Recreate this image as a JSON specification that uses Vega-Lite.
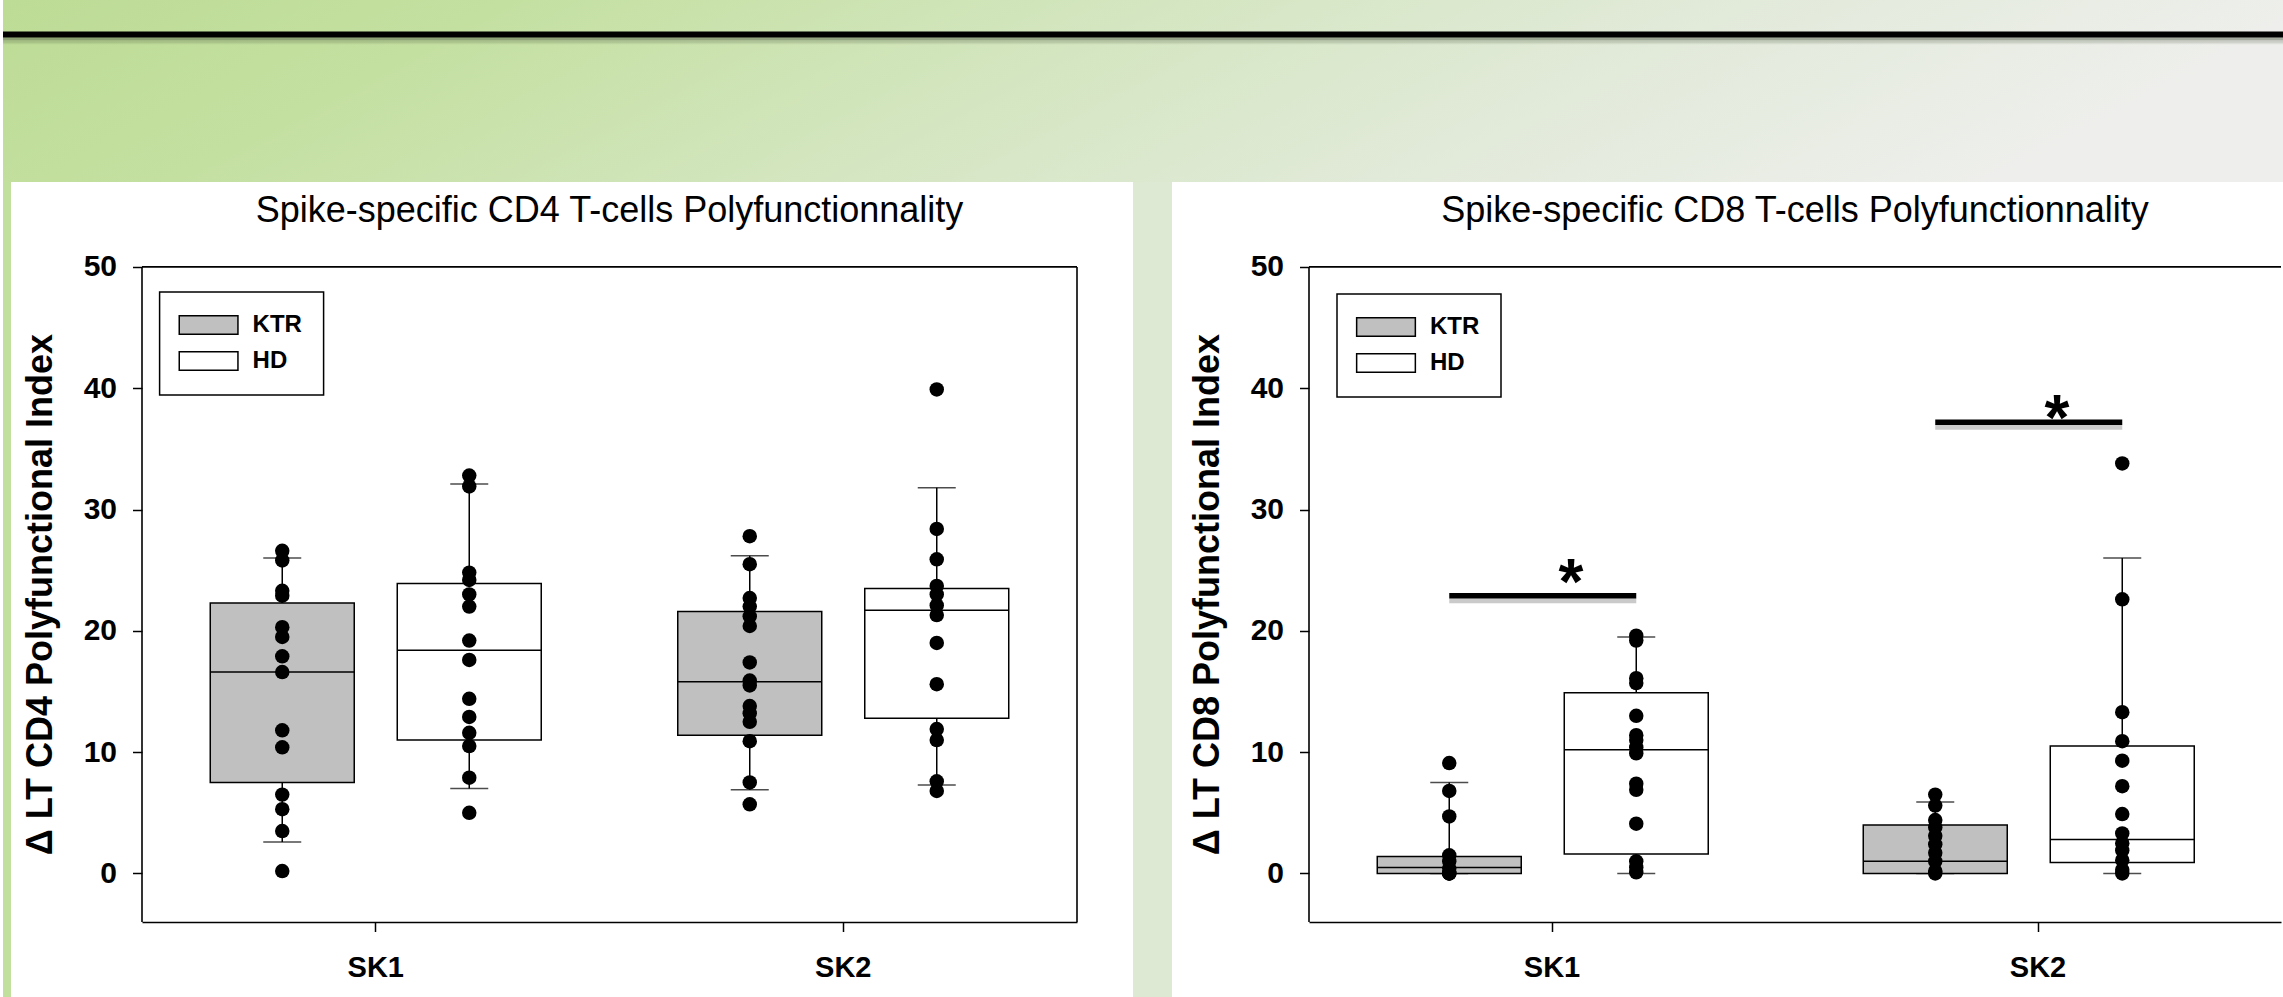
{
  "$schema": "https://vega.github.io/schema/vega-lite/v6.json",
  "background": "white",
  "padding": 0,
  "spacing": -50,
  "config": {
    "font": "Liberation Sans, Arial, sans-serif",
    "view": {"stroke": null},
    "axis": {
      "domain": true, "domainColor": "black", "domainWidth": 1.6,
      "ticks": true, "tickColor": "black", "tickWidth": 1.5, "tickSize": 9.5,
      "labelColor": "black", "labelFont": "Liberation Sans, Arial, sans-serif", "labelFontWeight": "bold",
      "titleColor": "black", "titleFont": "Liberation Sans, Arial, sans-serif", "titleFontWeight": "bold",
      "grid": false
    },
    "axisY": {"domain": false, "labelFontSize": 30, "labelPadding": 16, "titleFontSize": 36, "titlePadding": 24},
    "axisX": {"labelFontSize": 29, "labelPadding": 22, "labelAngle": 0, "bandPosition": 0.5},
    "legend": {"strokeWidth": 1.5}
  },
  "datasets": {
    "cd4box": [
      {"group": "SK1", "cohort": "KTR", "lo": 2.6, "q1": 7.5, "median": 16.6, "q3": 22.3, "hi": 26.0},
      {"group": "SK1", "cohort": "HD", "lo": 7.0, "q1": 11.0, "median": 18.4, "q3": 23.9, "hi": 32.1},
      {"group": "SK2", "cohort": "KTR", "lo": 6.9, "q1": 11.4, "median": 15.8, "q3": 21.6, "hi": 26.2},
      {"group": "SK2", "cohort": "HD", "lo": 7.3, "q1": 12.8, "median": 21.7, "q3": 23.5, "hi": 31.8}
    ],
    "cd4pts": [
      {"group": "SK1", "cohort": "KTR", "value": 26.6},
      {"group": "SK1", "cohort": "KTR", "value": 25.8},
      {"group": "SK1", "cohort": "KTR", "value": 23.3},
      {"group": "SK1", "cohort": "KTR", "value": 22.9},
      {"group": "SK1", "cohort": "KTR", "value": 20.3},
      {"group": "SK1", "cohort": "KTR", "value": 19.5},
      {"group": "SK1", "cohort": "KTR", "value": 17.9},
      {"group": "SK1", "cohort": "KTR", "value": 16.6},
      {"group": "SK1", "cohort": "KTR", "value": 11.8},
      {"group": "SK1", "cohort": "KTR", "value": 10.4},
      {"group": "SK1", "cohort": "KTR", "value": 6.5},
      {"group": "SK1", "cohort": "KTR", "value": 5.3},
      {"group": "SK1", "cohort": "KTR", "value": 3.5},
      {"group": "SK1", "cohort": "KTR", "value": 0.2},
      {"group": "SK1", "cohort": "HD", "value": 32.8},
      {"group": "SK1", "cohort": "HD", "value": 31.9},
      {"group": "SK1", "cohort": "HD", "value": 24.8},
      {"group": "SK1", "cohort": "HD", "value": 24.2},
      {"group": "SK1", "cohort": "HD", "value": 23.0},
      {"group": "SK1", "cohort": "HD", "value": 22.0},
      {"group": "SK1", "cohort": "HD", "value": 19.2},
      {"group": "SK1", "cohort": "HD", "value": 17.6},
      {"group": "SK1", "cohort": "HD", "value": 14.4},
      {"group": "SK1", "cohort": "HD", "value": 12.9},
      {"group": "SK1", "cohort": "HD", "value": 11.6},
      {"group": "SK1", "cohort": "HD", "value": 10.5},
      {"group": "SK1", "cohort": "HD", "value": 7.9},
      {"group": "SK1", "cohort": "HD", "value": 5.0},
      {"group": "SK2", "cohort": "KTR", "value": 27.8},
      {"group": "SK2", "cohort": "KTR", "value": 25.5},
      {"group": "SK2", "cohort": "KTR", "value": 22.7},
      {"group": "SK2", "cohort": "KTR", "value": 22.0},
      {"group": "SK2", "cohort": "KTR", "value": 21.2},
      {"group": "SK2", "cohort": "KTR", "value": 20.4},
      {"group": "SK2", "cohort": "KTR", "value": 17.4},
      {"group": "SK2", "cohort": "KTR", "value": 15.9},
      {"group": "SK2", "cohort": "KTR", "value": 15.5},
      {"group": "SK2", "cohort": "KTR", "value": 13.8},
      {"group": "SK2", "cohort": "KTR", "value": 13.2},
      {"group": "SK2", "cohort": "KTR", "value": 12.5},
      {"group": "SK2", "cohort": "KTR", "value": 10.9},
      {"group": "SK2", "cohort": "KTR", "value": 7.5},
      {"group": "SK2", "cohort": "KTR", "value": 5.7},
      {"group": "SK2", "cohort": "HD", "value": 39.9},
      {"group": "SK2", "cohort": "HD", "value": 28.4},
      {"group": "SK2", "cohort": "HD", "value": 25.9},
      {"group": "SK2", "cohort": "HD", "value": 23.7},
      {"group": "SK2", "cohort": "HD", "value": 23.0},
      {"group": "SK2", "cohort": "HD", "value": 22.1},
      {"group": "SK2", "cohort": "HD", "value": 21.3},
      {"group": "SK2", "cohort": "HD", "value": 19.0},
      {"group": "SK2", "cohort": "HD", "value": 15.6},
      {"group": "SK2", "cohort": "HD", "value": 11.9},
      {"group": "SK2", "cohort": "HD", "value": 11.0},
      {"group": "SK2", "cohort": "HD", "value": 7.6},
      {"group": "SK2", "cohort": "HD", "value": 6.8}
    ],
    "cd8box": [
      {"group": "SK1", "cohort": "KTR", "lo": 0.0, "q1": 0.0, "median": 0.5, "q3": 1.4, "hi": 7.5},
      {"group": "SK1", "cohort": "HD", "lo": 0.0, "q1": 1.6, "median": 10.2, "q3": 14.9, "hi": 19.5},
      {"group": "SK2", "cohort": "KTR", "lo": 0.0, "q1": 0.0, "median": 1.0, "q3": 4.0, "hi": 5.9},
      {"group": "SK2", "cohort": "HD", "lo": 0.0, "q1": 0.9, "median": 2.8, "q3": 10.5, "hi": 26.0}
    ],
    "cd8pts": [
      {"group": "SK1", "cohort": "KTR", "value": 9.1},
      {"group": "SK1", "cohort": "KTR", "value": 6.8},
      {"group": "SK1", "cohort": "KTR", "value": 4.7},
      {"group": "SK1", "cohort": "KTR", "value": 1.5},
      {"group": "SK1", "cohort": "KTR", "value": 1.0},
      {"group": "SK1", "cohort": "KTR", "value": 0.4},
      {"group": "SK1", "cohort": "KTR", "value": 0.0},
      {"group": "SK1", "cohort": "KTR", "value": 0.0},
      {"group": "SK1", "cohort": "KTR", "value": 0.0},
      {"group": "SK1", "cohort": "HD", "value": 19.6},
      {"group": "SK1", "cohort": "HD", "value": 19.2},
      {"group": "SK1", "cohort": "HD", "value": 16.1},
      {"group": "SK1", "cohort": "HD", "value": 15.7},
      {"group": "SK1", "cohort": "HD", "value": 13.0},
      {"group": "SK1", "cohort": "HD", "value": 11.4},
      {"group": "SK1", "cohort": "HD", "value": 11.0},
      {"group": "SK1", "cohort": "HD", "value": 10.4},
      {"group": "SK1", "cohort": "HD", "value": 9.9},
      {"group": "SK1", "cohort": "HD", "value": 7.4},
      {"group": "SK1", "cohort": "HD", "value": 6.9},
      {"group": "SK1", "cohort": "HD", "value": 4.1},
      {"group": "SK1", "cohort": "HD", "value": 1.0},
      {"group": "SK1", "cohort": "HD", "value": 0.5},
      {"group": "SK1", "cohort": "HD", "value": 0.1},
      {"group": "SK2", "cohort": "KTR", "value": 6.5},
      {"group": "SK2", "cohort": "KTR", "value": 5.6},
      {"group": "SK2", "cohort": "KTR", "value": 4.4},
      {"group": "SK2", "cohort": "KTR", "value": 3.8},
      {"group": "SK2", "cohort": "KTR", "value": 3.1},
      {"group": "SK2", "cohort": "KTR", "value": 2.4},
      {"group": "SK2", "cohort": "KTR", "value": 1.7},
      {"group": "SK2", "cohort": "KTR", "value": 1.0},
      {"group": "SK2", "cohort": "KTR", "value": 0.2},
      {"group": "SK2", "cohort": "KTR", "value": 0.0},
      {"group": "SK2", "cohort": "HD", "value": 33.8},
      {"group": "SK2", "cohort": "HD", "value": 22.6},
      {"group": "SK2", "cohort": "HD", "value": 13.3},
      {"group": "SK2", "cohort": "HD", "value": 10.9},
      {"group": "SK2", "cohort": "HD", "value": 9.3},
      {"group": "SK2", "cohort": "HD", "value": 7.2},
      {"group": "SK2", "cohort": "HD", "value": 4.9},
      {"group": "SK2", "cohort": "HD", "value": 3.3},
      {"group": "SK2", "cohort": "HD", "value": 2.5},
      {"group": "SK2", "cohort": "HD", "value": 1.9},
      {"group": "SK2", "cohort": "HD", "value": 1.1},
      {"group": "SK2", "cohort": "HD", "value": 0.3},
      {"group": "SK2", "cohort": "HD", "value": 0.0}
    ],
    "cd8sig": [
      {"group": "SK1", "cohort": "KTR", "level": 22.9},
      {"group": "SK1", "cohort": "HD", "level": 22.9},
      {"group": "SK2", "cohort": "KTR", "level": 37.2},
      {"group": "SK2", "cohort": "HD", "level": 37.2}
    ],
    "cd8star": [
      {"group": "SK1", "y": 25.2, "label": "*"},
      {"group": "SK2", "y": 38.7, "label": "*"}
    ]
  },
  "vconcat": [
    {
      "width": 2283,
      "height": 182,
      "data": {"values": [{}]},
      "view": {"stroke": null, "fill": {"gradient": "linear", "x1": 0, "y1": 0, "x2": 1, "y2": 0.15, "stops": [
        {"offset": 0, "color": "#bddc95"},
        {"offset": 0.22, "color": "#c4e0a1"},
        {"offset": 0.5, "color": "#d4e6c1"},
        {"offset": 0.75, "color": "#e2eada"},
        {"offset": 1, "color": "#eeefec"}
      ]}},
      "layer": [
        {"mark": {"type": "rule", "color": "#4a5540", "strokeWidth": 3, "opacity": 0.45},
         "encoding": {"y": {"datum": 38.8, "type": "quantitative", "scale": {"domain": [0, 182], "reverse": true, "nice": false, "zero": false}, "axis": null}}},
        {"mark": {"type": "rule", "color": "#4a5540", "strokeWidth": 2.5, "opacity": 0.22},
         "encoding": {"y": {"datum": 41.5, "type": "quantitative"}}},
        {"mark": {"type": "rule", "color": "#4a5540", "strokeWidth": 1.5, "opacity": 0.1},
         "encoding": {"y": {"datum": 43.6, "type": "quantitative"}}},
        {"mark": {"type": "rule", "color": "black", "strokeWidth": 5.8},
         "encoding": {"y": {"datum": 34.5, "type": "quantitative"}}}
      ]
    },
    {
      "spacing": 0,
      "resolve": {"scale": {"fill": "independent"}, "legend": {"fill": "independent"}},
      "hconcat": [
        {
          "width": 18.7, "height": 815,
          "data": {"values": []},
          "view": {"stroke": null, "fill": {"gradient": "linear", "x1": 0, "y1": 0, "x2": 1, "y2": 0, "stops": [
            {"offset": 0, "color": "#c1df9d"}, {"offset": 0.41, "color": "#c1df9d"},
            {"offset": 0.41, "color": "#ffffff"}, {"offset": 1, "color": "#ffffff"}
          ]}},
          "mark": {"type": "rule", "opacity": 0},
          "encoding": {}
        },
        {
          "width": 935, "height": 740,
          "view": {"stroke": null, "fill": "white"},
          "title": {"text": "Spike-specific CD4 T-cells Polyfunctionnality", "fontSize": 36, "fontWeight": "normal", "color": "black", "frame": "group", "anchor": "middle", "baseline": "alphabetic", "offset": -76},
          "layer": [
            {
              "data": {"name": "cd4box"},
              "mark": {"type": "rule", "color": "black", "strokeWidth": 1.5},
              "encoding": {
                "x": {"field": "group", "type": "nominal", "title": null, "scale": {"domain": ["SK1", "SK2"], "paddingInner": 0, "paddingOuter": 0}},
                "xOffset": {"field": "cohort", "type": "nominal", "scale": {"domain": ["KTR", "HD"], "paddingInner": 0.23, "paddingOuter": 0.365}},
                "y": {"field": "lo", "type": "quantitative", "title": "Δ LT CD4 Polyfunctional Index", "scale": {"domain": [-4, 57], "nice": false, "zero": false}, "axis": {"values": [0, 10, 20, 30, 40, 50], "titleY": 412}},
                "y2": {"field": "hi"}
              }
            },
            {
              "data": {"name": "cd4box"},
              "mark": {"type": "tick", "color": "black", "size": 38, "thickness": 1.5},
              "encoding": {
                "x": {"field": "group", "type": "nominal", "title": null},
                "xOffset": {"field": "cohort", "type": "nominal"},
                "y": {"field": "lo", "type": "quantitative", "title": "Δ LT CD4 Polyfunctional Index"}
              }
            },
            {
              "data": {"name": "cd4box"},
              "mark": {"type": "tick", "color": "black", "size": 38, "thickness": 1.5},
              "encoding": {
                "x": {"field": "group", "type": "nominal", "title": null},
                "xOffset": {"field": "cohort", "type": "nominal"},
                "y": {"field": "hi", "type": "quantitative", "title": "Δ LT CD4 Polyfunctional Index"}
              }
            },
            {
              "data": {"name": "cd4box"},
              "mark": {"type": "bar", "stroke": "black", "strokeWidth": 1.5, "opacity": 1},
              "encoding": {
                "x": {"field": "group", "type": "nominal", "title": null},
                "xOffset": {"field": "cohort", "type": "nominal"},
                "y": {"field": "q1", "type": "quantitative", "title": "Δ LT CD4 Polyfunctional Index"},
                "y2": {"field": "q3"},
                "fill": {"field": "cohort", "type": "nominal", "scale": {"domain": ["KTR", "HD"], "range": ["#c0c0c0", "#ffffff"]},
                  "legend": {"title": null, "orient": "none", "legendX": 17.6, "legendY": 110, "direction": "vertical", "fillColor": "white", "strokeColor": "black", "padding": 21,
                    "symbolType": "M-2.935,-0.935H2.935V0.935H-2.935Z", "symbolSize": 400, "symbolStrokeColor": "black", "symbolStrokeWidth": 1.5, "symbolOffset": 16,
                    "labelOffset": 32, "labelFontSize": 24, "labelFontWeight": "bold", "labelColor": "black", "rowPadding": 10}}
              }
            },
            {
              "data": {"name": "cd4box"},
              "mark": {"type": "bar", "fill": "transparent", "stroke": "black", "strokeWidth": 1.5},
              "encoding": {
                "x": {"field": "group", "type": "nominal", "title": null},
                "xOffset": {"field": "cohort", "type": "nominal"},
                "y": {"field": "median", "type": "quantitative", "title": "Δ LT CD4 Polyfunctional Index"},
                "y2": {"field": "median"}
              }
            },
            {
              "data": {"name": "cd4pts"},
              "mark": {"type": "circle", "color": "black", "opacity": 1, "size": 210},
              "encoding": {
                "x": {"field": "group", "type": "nominal", "title": null},
                "xOffset": {"field": "cohort", "type": "nominal"},
                "y": {"field": "value", "type": "quantitative", "title": "Δ LT CD4 Polyfunctional Index"}
              }
            },
            {
              "data": {"values": [{}]},
              "mark": {"type": "rule", "color": "black", "strokeWidth": 1.6},
              "encoding": {"y": {"datum": 50, "type": "quantitative"}}
            },
            {
              "data": {"values": [{}]},
              "mark": {"type": "rule", "color": "black", "strokeWidth": 1.6},
              "encoding": {
                "x": {"datum": "SK1", "type": "nominal", "bandPosition": 0},
                "y": {"datum": -4, "type": "quantitative"},
                "y2": {"datum": 50}
              }
            },
            {
              "data": {"values": [{}]},
              "mark": {"type": "rule", "color": "black", "strokeWidth": 1.6},
              "encoding": {
                "x": {"datum": "SK2", "type": "nominal", "bandPosition": 1},
                "y": {"datum": -4, "type": "quantitative"},
                "y2": {"datum": 50}
              }
            }
          ]
        },
        {
          "width": 111, "height": 815,
          "data": {"values": []},
          "view": {"stroke": null, "fill": {"gradient": "linear", "x1": 0, "y1": 0, "x2": 1, "y2": 0, "stops": [
            {"offset": 0, "color": "#ffffff"}, {"offset": 0.499, "color": "#ffffff"},
            {"offset": 0.499, "color": "#dde9d2"}, {"offset": 0.85, "color": "#dde9d2"},
            {"offset": 0.85, "color": "#ffffff"}, {"offset": 1, "color": "#ffffff"}
          ]}},
          "mark": {"type": "rule", "opacity": 0},
          "encoding": {}
        },
        {
          "width": 972, "height": 740,
          "view": {"stroke": null, "fill": "white"},
          "title": {"text": "Spike-specific CD8 T-cells Polyfunctionnality", "fontSize": 36, "fontWeight": "normal", "color": "black", "frame": "group", "anchor": "middle", "baseline": "alphabetic", "offset": -76},
          "layer": [
            {
              "data": {"name": "cd8box"},
              "mark": {"type": "rule", "color": "black", "strokeWidth": 1.5},
              "encoding": {
                "x": {"field": "group", "type": "nominal", "title": null, "scale": {"domain": ["SK1", "SK2"], "paddingInner": 0, "paddingOuter": 0}},
                "xOffset": {"field": "cohort", "type": "nominal", "scale": {"domain": ["KTR", "HD"], "paddingInner": 0.23, "paddingOuter": 0.365}},
                "y": {"field": "lo", "type": "quantitative", "title": "Δ LT CD8 Polyfunctional Index", "scale": {"domain": [-4, 57], "nice": false, "zero": false}, "axis": {"values": [0, 10, 20, 30, 40, 50], "titleY": 412}},
                "y2": {"field": "hi"}
              }
            },
            {
              "data": {"name": "cd8box"},
              "mark": {"type": "tick", "color": "black", "size": 38, "thickness": 1.5},
              "encoding": {
                "x": {"field": "group", "type": "nominal", "title": null},
                "xOffset": {"field": "cohort", "type": "nominal"},
                "y": {"field": "lo", "type": "quantitative", "title": "Δ LT CD8 Polyfunctional Index"}
              }
            },
            {
              "data": {"name": "cd8box"},
              "mark": {"type": "tick", "color": "black", "size": 38, "thickness": 1.5},
              "encoding": {
                "x": {"field": "group", "type": "nominal", "title": null},
                "xOffset": {"field": "cohort", "type": "nominal"},
                "y": {"field": "hi", "type": "quantitative", "title": "Δ LT CD8 Polyfunctional Index"}
              }
            },
            {
              "data": {"name": "cd8box"},
              "mark": {"type": "bar", "stroke": "black", "strokeWidth": 1.5, "opacity": 1},
              "encoding": {
                "x": {"field": "group", "type": "nominal", "title": null},
                "xOffset": {"field": "cohort", "type": "nominal"},
                "y": {"field": "q1", "type": "quantitative", "title": "Δ LT CD8 Polyfunctional Index"},
                "y2": {"field": "q3"},
                "fill": {"field": "cohort", "type": "nominal", "scale": {"domain": ["KTR", "HD"], "range": ["#c0c0c0", "#ffffff"]},
                  "legend": {"title": null, "orient": "none", "legendX": 28, "legendY": 112, "direction": "vertical", "fillColor": "white", "strokeColor": "black", "padding": 21,
                    "symbolType": "M-2.935,-0.935H2.935V0.935H-2.935Z", "symbolSize": 400, "symbolStrokeColor": "black", "symbolStrokeWidth": 1.5, "symbolOffset": 16,
                    "labelOffset": 32, "labelFontSize": 24, "labelFontWeight": "bold", "labelColor": "black", "rowPadding": 10}}
              }
            },
            {
              "data": {"name": "cd8box"},
              "mark": {"type": "bar", "fill": "transparent", "stroke": "black", "strokeWidth": 1.5},
              "encoding": {
                "x": {"field": "group", "type": "nominal", "title": null},
                "xOffset": {"field": "cohort", "type": "nominal"},
                "y": {"field": "median", "type": "quantitative", "title": "Δ LT CD8 Polyfunctional Index"},
                "y2": {"field": "median"}
              }
            },
            {
              "data": {"name": "cd8pts"},
              "mark": {"type": "circle", "color": "black", "opacity": 1, "size": 210},
              "encoding": {
                "x": {"field": "group", "type": "nominal", "title": null},
                "xOffset": {"field": "cohort", "type": "nominal"},
                "y": {"field": "value", "type": "quantitative", "title": "Δ LT CD8 Polyfunctional Index"}
              }
            },
            {
              "data": {"name": "cd8sig"},
              "mark": {"type": "line", "color": "#8a8a8a", "opacity": 0.45, "strokeWidth": 5, "strokeCap": "butt"},
              "encoding": {
                "x": {"field": "group", "type": "nominal", "title": null},
                "xOffset": {"field": "cohort", "type": "nominal"},
                "y": {"field": "level", "type": "quantitative", "title": "Δ LT CD8 Polyfunctional Index"},
                "yOffset": {"value": 5},
                "detail": {"field": "group"}
              }
            },
            {
              "data": {"name": "cd8sig"},
              "mark": {"type": "line", "color": "black", "strokeWidth": 5.5, "strokeCap": "butt"},
              "encoding": {
                "x": {"field": "group", "type": "nominal", "title": null},
                "xOffset": {"field": "cohort", "type": "nominal"},
                "y": {"field": "level", "type": "quantitative", "title": "Δ LT CD8 Polyfunctional Index"},
                "detail": {"field": "group"}
              }
            },
            {
              "data": {"name": "cd8star"},
              "mark": {"type": "text", "color": "black", "fontSize": 64, "fontWeight": "bold", "align": "center", "baseline": "alphabetic", "dx": 19, "dy": 36},
              "encoding": {
                "x": {"field": "group", "type": "nominal", "title": null},
                "y": {"field": "y", "type": "quantitative", "title": "Δ LT CD8 Polyfunctional Index"},
                "text": {"field": "label"}
              }
            },
            {
              "data": {"values": [{}]},
              "mark": {"type": "rule", "color": "black", "strokeWidth": 1.6},
              "encoding": {"y": {"datum": 50, "type": "quantitative"}}
            },
            {
              "data": {"values": [{}]},
              "mark": {"type": "rule", "color": "black", "strokeWidth": 1.6},
              "encoding": {
                "x": {"datum": "SK1", "type": "nominal", "bandPosition": 0},
                "y": {"datum": -4, "type": "quantitative"},
                "y2": {"datum": 50}
              }
            }
          ]
        }
      ]
    }
  ]
}
